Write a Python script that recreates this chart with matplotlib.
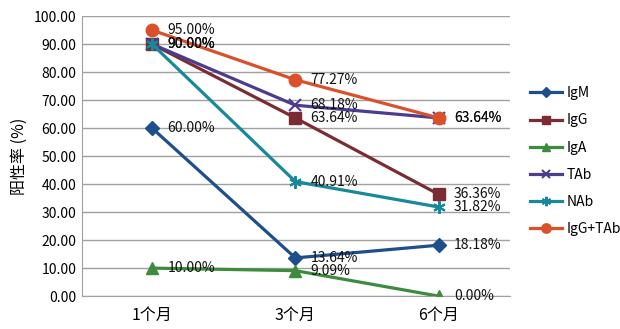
import matplotlib.pyplot as plt
import numpy as np

plt.rcParams['font.family'] = ['Noto Sans CJK SC', 'DejaVu Sans']

months = ['1个月', '3个月', '6个月']
series_names = ['IgM', 'IgG', 'IgA', 'TAb', 'NAb', 'IgG+TAb']
igm = [60.00, 13.64, 18.18]
igg = [90.00, 63.64, 36.36]
iga = [10.00, 9.09, 0.00]
tab = [90.00, 68.18, 63.64]
nab = [90.00, 40.91, 31.82]
igg_tab = [95.00, 77.27, 63.64]

colors = ['#1f4e8c', '#7b2c33', '#3d8b3d', '#4b3c8f', '#16899a', '#d9502b']
markers = ['D', 's', '^', 'x', (6, 2, 0), 'o']
msizes = [7, 8, 8, 8, 9, 9]

fig = plt.figure(figsize=(6.2, 3.29), dpi=100)
ax = fig.add_axes([0.132, 0.100, 0.691, 0.851])

x = np.arange(len(months))
all_series = [igm, igg, iga, tab, nab, igg_tab]
for name, vals, c, m, ms in zip(series_names, all_series, colors, markers, msizes):
    ax.plot(x, vals, color=c, lw=2.3, marker=m, markersize=ms,
            markeredgewidth=1.5 if m in ('x', (6, 2, 0)) else 1,
            label=name, zorder=3)

# data labels, drawn in series order so later ones sit on top
for vals in all_series:
    for xi, v in zip(x, vals):
        ax.annotate(f'{v:.2f}%', (xi, v), xytext=(11, 0), textcoords='offset points',
                    va='center', ha='left', fontsize=10, color='#111111', zorder=5)

ax.set_xlim(-0.49, 2.5)
ax.set_ylim(0, 100)
ax.set_yticks(np.arange(0, 101, 10))
ax.set_yticklabels([f'{v:.2f}' for v in np.arange(0, 101, 10)], fontsize=10)
ax.set_xticks(x)
ax.set_xticklabels(months, fontsize=11.5)
ax.tick_params(axis='both', length=0, pad=8)
ax.tick_params(axis='y', pad=4)
ax.yaxis.grid(True, color='#a0a0a0', lw=1)
ax.set_axisbelow(True)
for s in ['top', 'right']:
    ax.spines[s].set_visible(False)
for s in ['left', 'bottom']:
    ax.spines[s].set_color('#a0a0a0')
ax.set_ylabel('阳性率 (%)', fontsize=11.5, labelpad=4)

fig.legend(loc='center left', bbox_to_anchor=(0.835, 0.51), frameon=False,
           fontsize=10, handlelength=2.3, labelspacing=0.95, handletextpad=0.3,
           markerscale=0.75)

fig.savefig('out.png', dpi=100)
